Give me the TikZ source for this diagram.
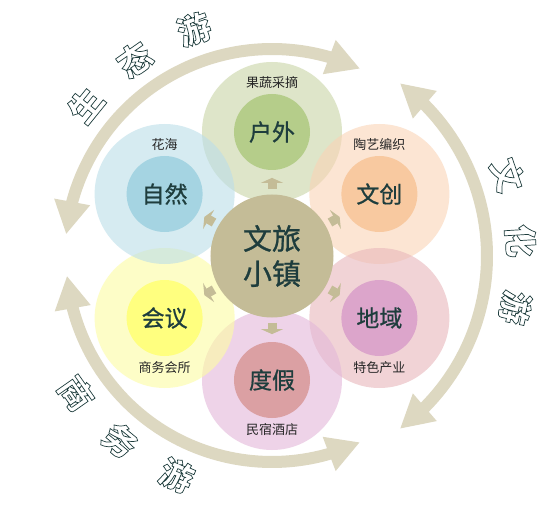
\documentclass[tikz,border=0pt]{standalone}
\usepackage{fontspec}
\setmainfont{Noto Sans CJK SC}
\newfontfamily\heavy[FakeBold=0.8]{Noto Sans CJK SC}
\usetikzlibrary{arrows.meta,bending,positioning,calc}
\definecolor{Ink}{HTML}{1E3D3D}
\definecolor{Label}{HTML}{262626}
\definecolor{Hub}{HTML}{C4BC97}
\definecolor{Ring}{HTML}{DDD8C1}
\definecolor{Green}{HTML}{B5CD8A}
\definecolor{GreenSoft}{HTML}{C8D5A5}
\definecolor{Blue}{HTML}{A5D4E2}
\definecolor{BlueSoft}{HTML}{BBDEE9}
\definecolor{Peach}{HTML}{F8C9A0}
\definecolor{PeachSoft}{HTML}{FAD4B6}
\definecolor{Orchid}{HTML}{DCA5CB}
\definecolor{OrchidSoft}{HTML}{E8B7BB}
\definecolor{Rose}{HTML}{DBA0A3}
\definecolor{RoseSoft}{HTML}{E3B7D9}
\definecolor{Lemon}{HTML}{FFFF7F}
\definecolor{LemonSoft}{HTML}{FDFDA3}
% hollow glyphs for the tour names
\newcommand{\hollow}[1]{\special{pdf:literal direct 1 Tr 0.7 w}#1\special{pdf:literal direct 0 Tr}}

\begin{document}
\begin{tikzpicture}[x=1pt, y=1pt,
      halo/.style={circle, minimum size=140pt, inner sep=0pt, fill opacity=0.6},
      core/.style={
        circle,
        minimum size=76pt,
        inner sep=0pt,
        text=Ink,
        font=\heavy\fontsize{23}{26}\selectfont
      },
      tag/.style={inner sep=0pt, text=Label, font=\fontsize{13}{15}\selectfont},
      push/.style={draw=Hub, line width=9pt, -{Triangle[length=5pt, width=22pt]}},
      ring/.style={draw=Ring, line width=12pt,
        {Triangle[length=33pt, width=34pt]}-{Triangle[length=33pt, width=34pt]}},
      tour/.style={inner sep=0pt, text=Ink, font=\fontsize{33}{33}\selectfont\bfseries},
      node distance=5pt
    ]
      \fill[white] (-272,-274) rectangle (282,256);
      \useasboundingbox (-272,-274) rectangle (282,256);
      \coordinate (o) at (0,0);

      % soft rings of the six themes
      \node[halo, fill=GreenSoft] (huwai-bg) at (90:124pt) {};
      \node[halo, fill=PeachSoft] (wenchuang-bg) at (30:124pt) {};
      \node[halo, fill=OrchidSoft] (diyu-bg) at (-30:124pt) {};
      \node[halo, fill=RoseSoft] (dujia-bg) at (-90:124pt) {};
      \node[halo, fill=LemonSoft] (huiyi-bg) at (-150:124pt) {};
      \node[halo, fill=BlueSoft] (ziran-bg) at (150:124pt) {};

      \node[core, fill=Green] (huwai) at (huwai-bg) {户外};
      \node[core, fill=Peach] (wenchuang) at (wenchuang-bg) {文创};
      \node[core, fill=Orchid] (diyu) at (diyu-bg) {地域};
      \node[core, fill=Rose] (dujia) at (dujia-bg) {度假};
      \node[core, fill=Lemon] (huiyi) at (huiyi-bg) {会议};
      \node[core, fill=Blue] (ziran) at (ziran-bg) {自然};

      \node[tag, above=of huwai] (huwai-tag) {果蔬采摘};
      \node[tag, above=of wenchuang] (wenchuang-tag) {陶艺编织};
      \node[tag, below=of diyu] (diyu-tag) {特色产业};
      \node[tag, below=of dujia] (dujia-tag) {民宿酒店};
      \node[tag, below=of huiyi] (huiyi-tag) {商务会所};
      \node[tag, above=of ziran] (ziran-tag) {花海};

      \node[circle, minimum size=123pt, inner sep=0pt, fill=Hub, text=Ink, align=center,
        font=\heavy\fontsize{29}{35}\selectfont] (hub) at (o) {文旅\\小镇};

      \foreach \t in {huwai, wenchuang, diyu, dujia, huiyi, ziran}
        \draw[push] ($(hub.center)!0.54!(\t)$) -- ($(hub.center)!0.63!(\t)$);

      % three big loops
      \draw[ring] (hub.center) ++(174:207pt) arc[start angle=174, end angle=64.8, radius=207pt];
      \draw[ring] (hub.center) ++(53.5:215pt) arc[start angle=53.5, end angle=-53.5, radius=215pt];
      \draw[ring] (hub.center) ++(295.3:206pt) arc[start angle=295.3, end angle=185.5, radius=206pt];

      \foreach \ch/\ang [count=\i] in {生/141, 态/125, 游/109}
        \node[tour, rotate=\ang-90] (eco\i) at (\ang:240pt) {\hollow{\ch}};
      \foreach \ch/\ang [count=\i] in {文/19, 化/3.5, 游/-12}
        \node[tour, rotate=\ang-90] (culture\i) at (\ang:249pt) {\hollow{\ch}};
      \foreach \ch/\ang [count=\i] in {商/215, 务/230.5, 游/246.5}
        \node[tour, rotate=\ang+90] (business\i) at (\ang:239pt) {\hollow{\ch}};
    \end{tikzpicture}
\end{document}
